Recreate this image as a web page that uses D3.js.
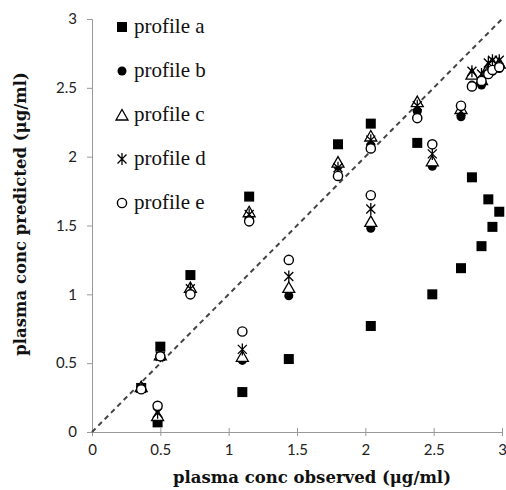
<!DOCTYPE html>
<html>
<head>
<meta charset="utf-8">
<script src="https://cdn.jsdelivr.net/npm/d3@7"></script>
<style>
  body { margin: 0; background: #fff; }
  .axis path, .axis line { stroke: #999; }
  .axis text { font-family: 'Lato', sans-serif; font-size: 15px; fill: #222; }
  .title { font-family: 'DejaVu Serif', serif; font-weight: bold; font-size: 16.5px; fill: #111; }
  .legend text { font-family: 'Liberation Serif', serif; font-size: 21px; fill: #111; }
</style>
</head>
<body>
<div id="chart"></div>
<script>
  'use strict';

  // observed concentrations (x)
  var observed = [0.36, 0.48, 0.50, 0.72, 1.10, 1.15, 1.44, 1.80, 2.04, 2.04,
    2.38, 2.49, 2.70, 2.78, 2.85, 2.90, 2.93, 2.98];

  // predicted concentrations per profile
  var profileA = [0.32, 0.07, 0.62, 1.14, 0.29, 1.71, 0.53, 2.09, 2.24, 0.77,
    2.10, 1.00, 1.19, 1.85, 1.35, 1.69, 1.49, 1.60];
  var profileB = [0.32, 0.10, 0.55, 1.03, 0.52, 1.57, 0.99, 1.93, 2.08, 1.48,
    2.33, 1.93, 2.29, 2.52, 2.52, 2.60, 2.62, 2.64];
  var profileC = [0.33, 0.12, 0.56, 1.05, 0.55, 1.60, 1.05, 1.96, 2.15, 1.53,
    2.40, 1.97, 2.35, 2.60, 2.56, 2.65, 2.68, 2.68];
  var profileD = [0.32, 0.14, 0.55, 1.04, 0.60, 1.58, 1.13, 1.92, 2.12, 1.62,
    2.37, 2.02, 2.33, 2.62, 2.60, 2.68, 2.70, 2.70];
  var profileE = [0.31, 0.19, 0.55, 1.00, 0.73, 1.53, 1.25, 1.86, 2.06, 1.72,
    2.28, 2.09, 2.37, 2.51, 2.55, 2.60, 2.63, 2.65];

  var seriesNames = ['profile a', 'profile b', 'profile c', 'profile d', 'profile e'];
  var tickValues = [0, 0.5, 1, 1.5, 2, 2.5, 3];

  var W = 506, H = 490;
  var MARGIN = { top: 19, right: 4, bottom: 58, left: 92 };

  var svg = d3.select('#chart').append('svg')
    .attr('width', W)
    .attr('height', H);

  var x = d3.scaleLinear().domain([0, 3]).range([MARGIN.left, W - MARGIN.right]);
  var y = d3.scaleLinear().domain([0, 3]).range([H - MARGIN.bottom, MARGIN.top]);

  var fmt = function (d) { return d3.format('')(d); };

  // axes
  var xAxis = svg.append('g')
    .attr('class', 'axis')
    .attr('transform', 'translate(0,' + y(0) + ')')
    .call(d3.axisBottom(x).tickValues(tickValues).tickFormat(fmt).tickSizeOuter(0).tickSize(4).tickPadding(8));
  xAxis.selectAll('.tick line').attr('y1', -4);

  svg.append('g')
    .attr('class', 'axis')
    .attr('transform', 'translate(' + x(0) + ',0)')
    .call(d3.axisLeft(y).tickValues(tickValues).tickFormat(fmt).tickSizeOuter(0).tickSize(5).tickPadding(10));

  // 1:1 line
  svg.append('line')
    .attr('x1', x(0)).attr('y1', y(0))
    .attr('x2', x(3)).attr('y2', y(3))
    .attr('stroke', '#444')
    .attr('stroke-width', 2)
    .attr('stroke-dasharray', '5,4');

  // marker drawing
  function drawMarker(g, type) {
    if (type === 0) {
      g.append('rect').attr('x', -5).attr('y', -5).attr('width', 10).attr('height', 10).attr('fill', '#000');
    } else if (type === 1) {
      g.append('path').attr('d', d3.symbol(d3.symbolCircle, 64)()).attr('fill', '#000');
    } else if (type === 2) {
      g.append('path').attr('d', 'M0,-5.5L6,5L-6,5Z').attr('fill', '#fff').attr('stroke', '#000').attr('stroke-width', 1.3);
    } else if (type === 3) {
      g.append('path').attr('d', 'M-4.5,-4.5L4.5,4.5M-4.5,4.5L4.5,-4.5M0,-6L0,6')
        .attr('fill', 'none').attr('stroke', '#000').attr('stroke-width', 1.3);
    } else {
      g.append('circle').attr('r', 4.6).attr('fill', '#fff').attr('stroke', '#000').attr('stroke-width', 1.4);
    }
  }

  var allSeries = [profileA, profileB, profileC, profileD, profileE];
  var plot = svg.append('g');

  allSeries.forEach(function (vals, si) {
    plot.selectAll('g.s' + si)
      .data(vals)
      .enter()
      .append('g')
      .attr('class', 's' + si)
      .attr('transform', function (d, i) {
        return 'translate(' + x(observed[i]) + ',' + y(d) + ')';
      })
      .each(function () { drawMarker(d3.select(this), si); });
  });

  // legend
  var legend = svg.append('g').attr('class', 'legend');
  seriesNames.forEach(function (name, i) {
    var ly = 27 + i * 44;
    var g = legend.append('g').attr('transform', 'translate(122,' + ly + ')');
    drawMarker(g, i);
    legend.append('text').attr('x', 134).attr('y', ly + 6).text(name);
  });

  // axis titles
  svg.append('text')
    .attr('class', 'title')
    .attr('x', (x(0) + x(3)) / 2 + 15)
    .attr('y', 483)
    .attr('text-anchor', 'middle')
    .text('plasma conc observed (\u03bcg/ml)');

  svg.append('text')
    .attr('class', 'title')
    .attr('transform', 'translate(26,214) rotate(-90)')
    .attr('text-anchor', 'middle')
    .text('plasma conc predicted (\u03bcg/ml)');
</script>
</body>
</html>
